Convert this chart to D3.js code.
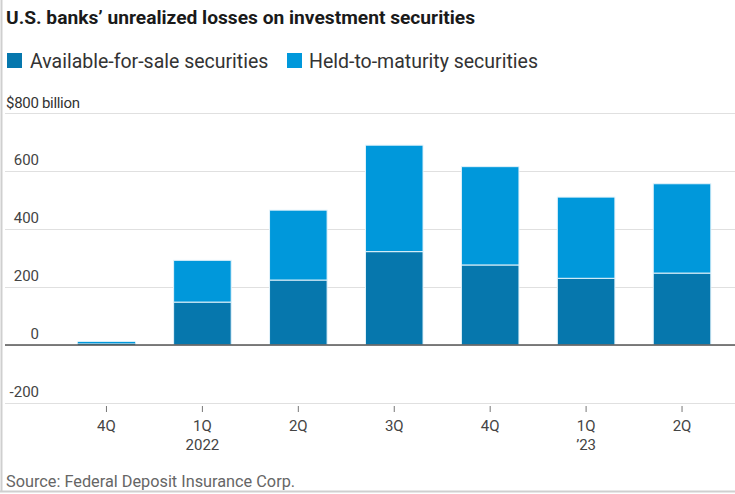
<!DOCTYPE html>
<html><head><meta charset="utf-8">
<script src="https://cdn.jsdelivr.net/npm/d3@7"></script>
<style>
html,body{margin:0;padding:0;background:#fff;}
svg{display:block;font-family:Roboto,"Liberation Sans",sans-serif;}
</style></head>
<body>
<svg id="chart" width="735" height="494"></svg>
<script>
const categories = ["4Q", "1Q", "2Q", "3Q", "4Q", "1Q", "2Q"];
const yearLabels = ["", "2022", "", "", "", "\u201923", ""];
const afs = [6, 148, 224, 322, 276, 230, 248];
const htm = [5, 144, 241, 367, 339, 280, 308];
const seriesNames = ["Available-for-sale securities", "Held-to-maturity securities"];
const seriesColors = ["#0677ad", "#0098db"];
const yTicks = [-200, 0, 200, 400, 600, 800];

const svg = d3.select("#chart");

// frame
svg.append("line").attr("x1",1.5).attr("x2",1.5).attr("y1",0).attr("y2",491).attr("stroke","#cfcfcf").attr("stroke-width",2);
svg.append("line").attr("x1",0).attr("x2",735).attr("y1",491.5).attr("y2",491.5).attr("stroke","#cfcfcf").attr("stroke-width",2);

// title
svg.append("text").attr("x",6).attr("y",24).text("U.S. banks\u2019 unrealized losses on investment securities")
  .attr("font-size",18.5).attr("font-weight",700).attr("fill","#1a1a1a")
  .attr("textLength",469).attr("lengthAdjust","spacingAndGlyphs");

// legend
const lg1 = svg.append("g").attr("transform","translate(7,53)");
lg1.append("rect").attr("width",15).attr("height",15).attr("fill",seriesColors[0]);
lg1.append("text").attr("x",23).attr("y",14.5).text(seriesNames[0]).attr("font-size",19.5).attr("fill","#333");
const lg2 = svg.append("g").attr("transform","translate(287,53)");
lg2.append("rect").attr("width",15).attr("height",15).attr("fill",seriesColors[1]);
lg2.append("text").attr("x",22).attr("y",14.5).text(seriesNames[1]).attr("font-size",19.5).attr("fill","#333");

// scales
const y = d3.scaleLinear().domain([-200, 800]).range([403, 113]);
const x = d3.scaleBand().domain(d3.range(categories.length)).range([58.5, 730]).paddingInner(0.4).paddingOuter(0.2);

// gridlines
yTicks.forEach(t => {
  svg.append("line").attr("x1",5).attr("x2",735).attr("y1",Math.round(y(t))+0.5).attr("y2",Math.round(y(t))+0.5)
    .attr("stroke","#e0e0e0").attr("stroke-width",1.2);
});

// y labels
yTicks.forEach(t => {
  if (t === 800) {
    svg.append("text").attr("x",6).attr("y",y(t)-5).text("$800 billion").attr("font-size",15).attr("fill","#333").attr("letter-spacing",-0.3);
  } else {
    svg.append("text").attr("x",39).attr("y",y(t)-6).attr("text-anchor","end").text(String(t))
      .attr("font-size",15).attr("fill","#444");
  }
});

// stacked bars
const rows = categories.map((c,i) => ({i, afs: afs[i], htm: htm[i]}));
const stack = d3.stack().keys(["afs","htm"])(rows);
stack.forEach((layer, k) => {
  svg.append("g").selectAll("rect").data(layer).enter().append("rect")
    .attr("x", d => x(d.data.i))
    .attr("width", x.bandwidth())
    .attr("y", d => y(d[1]))
    .attr("height", d => Math.max(0.5, y(d[0]) - y(d[1])))
    .attr("fill", seriesColors[k])
    .attr("stroke", "#e3f3fb").attr("stroke-width", d => (d[1]-d[0]) > 20 ? 1 : 0.3);
});

// zero line
svg.append("line").attr("x1",5).attr("x2",735).attr("y1",y(0)).attr("y2",y(0)).attr("stroke","#555").attr("stroke-width",1.5);

// x axis
categories.forEach((c,i) => {
  const cx = x(i) + x.bandwidth()/2;
  svg.append("line").attr("x1",cx).attr("x2",cx).attr("y1",406).attr("y2",412).attr("stroke","#777").attr("stroke-width",1);
  svg.append("text").attr("x",cx).attr("y",431).attr("text-anchor","middle").text(c).attr("font-size",15).attr("fill","#444");
  if (yearLabels[i]) svg.append("text").attr("x",cx).attr("y",450).attr("text-anchor","middle").text(yearLabels[i]).attr("font-size",15).attr("fill","#444");
});

// source
svg.append("text").attr("x",6).attr("y",487).text("Source: Federal Deposit Insurance Corp.").attr("font-size",16.3).attr("fill","#666");
</script>
</body></html>
